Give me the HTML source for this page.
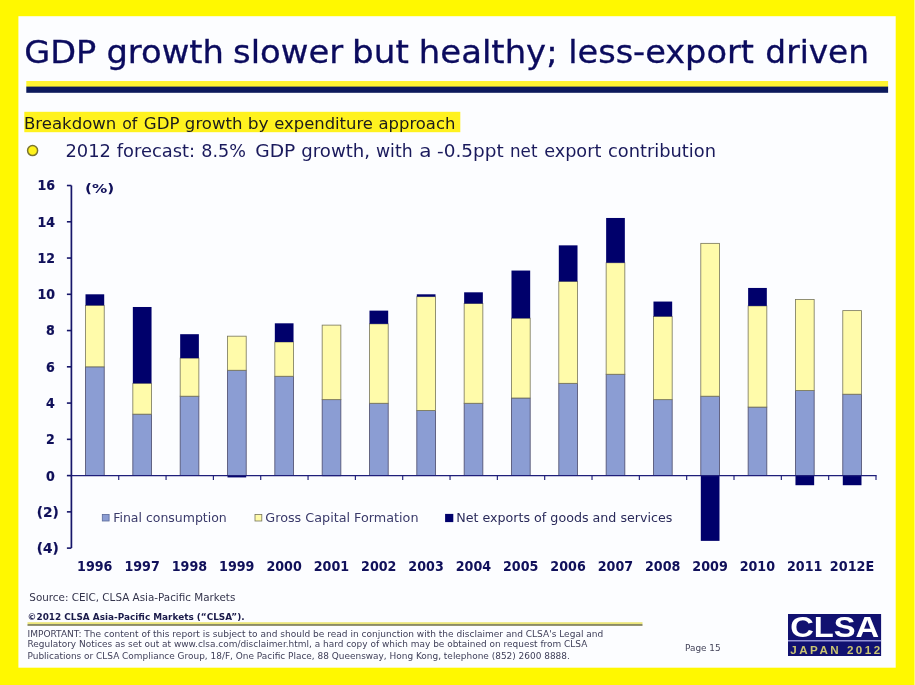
<!DOCTYPE html><html><head><meta charset="utf-8"><title>GDP growth slower but healthy; less-export driven</title>
<style>html,body{margin:0;padding:0;background:#fff800;overflow:hidden;}svg{display:block}text{font-family:"DejaVu Sans","Liberation Sans",sans-serif;}</style></head><body>
<svg width="915" height="685" viewBox="0 0 915 685">
<rect x="0" y="0" width="915" height="685" fill="#fff800"/>
<rect x="18.4" y="16.2" width="877.3" height="651.5" fill="#fcfdff"/><rect x="914" y="0" width="1" height="685" fill="#fffb70"/>
<text y="63.0" font-size="32.4" fill="#0b0b5e" stroke="#0b0b5e" stroke-width="0.3"><tspan x="24.23" textLength="72.11" lengthAdjust="spacingAndGlyphs">GDP</tspan> <tspan x="106.41" textLength="117.50" lengthAdjust="spacingAndGlyphs">growth</tspan> <tspan x="233.01" textLength="110.15" lengthAdjust="spacingAndGlyphs">slower</tspan> <tspan x="352.03" textLength="56.81" lengthAdjust="spacingAndGlyphs">but</tspan> <tspan x="418.86" textLength="138.73" lengthAdjust="spacingAndGlyphs">healthy;</tspan> <tspan x="568.19" textLength="185.71" lengthAdjust="spacingAndGlyphs">less-export</tspan> <tspan x="765.38" textLength="103.67" lengthAdjust="spacingAndGlyphs">driven</tspan></text>
<rect x="26.3" y="81" width="861.8" height="6" fill="#fff533"/>
<rect x="26.3" y="86.6" width="861.8" height="6.2" fill="#0c1a5c"/>
<rect x="24.3" y="111.8" width="436" height="20.4" fill="#fff21f"/>
<text y="128.9" font-size="16.3" fill="#1c1c1c"><tspan x="23.98" textLength="92.39" lengthAdjust="spacingAndGlyphs">Breakdown</tspan> <tspan x="122.13" textLength="15.18" lengthAdjust="spacingAndGlyphs">of</tspan> <tspan x="143.88" textLength="35.70" lengthAdjust="spacingAndGlyphs">GDP</tspan> <tspan x="184.88" textLength="57.60" lengthAdjust="spacingAndGlyphs">growth</tspan> <tspan x="247.75" textLength="20.98" lengthAdjust="spacingAndGlyphs">by</tspan> <tspan x="274.19" textLength="98.77" lengthAdjust="spacingAndGlyphs">expenditure</tspan> <tspan x="378.49" textLength="76.92" lengthAdjust="spacingAndGlyphs">approach</tspan></text>
<circle cx="32.6" cy="150.6" r="5.0" fill="#fff21a" stroke="#7a7430" stroke-width="1.5"/>
<text y="156.6" font-size="16.8" fill="#1a1a5c"><tspan x="65.43" textLength="45.60" lengthAdjust="spacingAndGlyphs">2012</tspan> <tspan x="116.80" textLength="78.33" lengthAdjust="spacingAndGlyphs">forecast:</tspan> <tspan x="201.25" textLength="44.62" lengthAdjust="spacingAndGlyphs">8.5%</tspan> <tspan x="255.29" textLength="40.06" lengthAdjust="spacingAndGlyphs">GDP</tspan> <tspan x="301.32" textLength="68.75" lengthAdjust="spacingAndGlyphs">growth,</tspan> <tspan x="375.97" textLength="36.69" lengthAdjust="spacingAndGlyphs">with</tspan> <tspan x="419.31" textLength="12.23" lengthAdjust="spacingAndGlyphs">a</tspan> <tspan x="437.00" textLength="66.70" lengthAdjust="spacingAndGlyphs">-0.5ppt</tspan> <tspan x="510.00" textLength="27.44" lengthAdjust="spacingAndGlyphs">net</tspan> <tspan x="544.15" textLength="57.23" lengthAdjust="spacingAndGlyphs">export</tspan> <tspan x="607.94" textLength="108.09" lengthAdjust="spacingAndGlyphs">contribution</tspan></text>
<rect x="85.51" y="366.82" width="18.7" height="108.78" fill="#8b9dd3" stroke="#4a4a6a" stroke-width="0.8"/>
<rect x="85.51" y="305.36" width="18.7" height="61.46" fill="#fffbaa" stroke="#77755a" stroke-width="0.8"/>
<rect x="85.51" y="294.30" width="18.7" height="11.06" fill="#00006b"/>
<rect x="132.84" y="414.14" width="18.7" height="61.46" fill="#8b9dd3" stroke="#4a4a6a" stroke-width="0.8"/>
<rect x="132.84" y="383.32" width="18.7" height="30.82" fill="#fffbaa" stroke="#77755a" stroke-width="0.8"/>
<rect x="132.84" y="306.99" width="18.7" height="76.33" fill="#00006b"/>
<rect x="180.17" y="396.19" width="18.7" height="79.41" fill="#8b9dd3" stroke="#4a4a6a" stroke-width="0.8"/>
<rect x="180.17" y="358.12" width="18.7" height="38.07" fill="#fffbaa" stroke="#77755a" stroke-width="0.8"/>
<rect x="180.17" y="334.19" width="18.7" height="23.93" fill="#00006b"/>
<rect x="227.50" y="370.26" width="18.7" height="105.34" fill="#8b9dd3" stroke="#4a4a6a" stroke-width="0.8"/>
<rect x="227.50" y="336.18" width="18.7" height="34.08" fill="#fffbaa" stroke="#77755a" stroke-width="0.8"/>
<rect x="227.50" y="475.60" width="18.7" height="1.81" fill="#00006b"/>
<rect x="274.83" y="376.25" width="18.7" height="99.35" fill="#8b9dd3" stroke="#4a4a6a" stroke-width="0.8"/>
<rect x="274.83" y="341.98" width="18.7" height="34.27" fill="#fffbaa" stroke="#77755a" stroke-width="0.8"/>
<rect x="274.83" y="323.31" width="18.7" height="18.67" fill="#00006b"/>
<rect x="322.16" y="399.64" width="18.7" height="75.96" fill="#8b9dd3" stroke="#4a4a6a" stroke-width="0.8"/>
<rect x="322.16" y="325.12" width="18.7" height="74.51" fill="#fffbaa" stroke="#77755a" stroke-width="0.8"/>
<rect x="322.16" y="475.60" width="18.7" height="0.54" fill="#00006b"/>
<rect x="369.49" y="403.26" width="18.7" height="72.34" fill="#8b9dd3" stroke="#4a4a6a" stroke-width="0.8"/>
<rect x="369.49" y="323.85" width="18.7" height="79.41" fill="#fffbaa" stroke="#77755a" stroke-width="0.8"/>
<rect x="369.49" y="310.62" width="18.7" height="13.23" fill="#00006b"/>
<rect x="416.82" y="410.51" width="18.7" height="65.09" fill="#8b9dd3" stroke="#4a4a6a" stroke-width="0.8"/>
<rect x="416.82" y="296.66" width="18.7" height="113.86" fill="#fffbaa" stroke="#77755a" stroke-width="0.8"/>
<rect x="416.82" y="294.30" width="18.7" height="2.36" fill="#00006b"/>
<rect x="464.15" y="403.26" width="18.7" height="72.34" fill="#8b9dd3" stroke="#4a4a6a" stroke-width="0.8"/>
<rect x="464.15" y="303.55" width="18.7" height="99.71" fill="#fffbaa" stroke="#77755a" stroke-width="0.8"/>
<rect x="464.15" y="292.31" width="18.7" height="11.24" fill="#00006b"/>
<rect x="511.48" y="398.00" width="18.7" height="77.60" fill="#8b9dd3" stroke="#4a4a6a" stroke-width="0.8"/>
<rect x="511.48" y="318.23" width="18.7" height="79.77" fill="#fffbaa" stroke="#77755a" stroke-width="0.8"/>
<rect x="511.48" y="270.55" width="18.7" height="47.68" fill="#00006b"/>
<rect x="558.81" y="383.32" width="18.7" height="92.28" fill="#8b9dd3" stroke="#4a4a6a" stroke-width="0.8"/>
<rect x="558.81" y="281.43" width="18.7" height="101.89" fill="#fffbaa" stroke="#77755a" stroke-width="0.8"/>
<rect x="558.81" y="245.35" width="18.7" height="36.08" fill="#00006b"/>
<rect x="606.14" y="374.25" width="18.7" height="101.35" fill="#8b9dd3" stroke="#4a4a6a" stroke-width="0.8"/>
<rect x="606.14" y="262.75" width="18.7" height="111.50" fill="#fffbaa" stroke="#77755a" stroke-width="0.8"/>
<rect x="606.14" y="217.97" width="18.7" height="44.78" fill="#00006b"/>
<rect x="653.47" y="399.64" width="18.7" height="75.96" fill="#8b9dd3" stroke="#4a4a6a" stroke-width="0.8"/>
<rect x="653.47" y="316.42" width="18.7" height="83.22" fill="#fffbaa" stroke="#77755a" stroke-width="0.8"/>
<rect x="653.47" y="301.55" width="18.7" height="14.87" fill="#00006b"/>
<rect x="700.80" y="396.19" width="18.7" height="79.41" fill="#8b9dd3" stroke="#4a4a6a" stroke-width="0.8"/>
<rect x="700.80" y="243.35" width="18.7" height="152.84" fill="#fffbaa" stroke="#77755a" stroke-width="0.8"/>
<rect x="700.80" y="475.60" width="18.7" height="65.27" fill="#00006b"/>
<rect x="748.13" y="407.07" width="18.7" height="68.53" fill="#8b9dd3" stroke="#4a4a6a" stroke-width="0.8"/>
<rect x="748.13" y="305.90" width="18.7" height="101.17" fill="#fffbaa" stroke="#77755a" stroke-width="0.8"/>
<rect x="748.13" y="287.95" width="18.7" height="17.95" fill="#00006b"/>
<rect x="795.46" y="390.57" width="18.7" height="85.03" fill="#8b9dd3" stroke="#4a4a6a" stroke-width="0.8"/>
<rect x="795.46" y="299.56" width="18.7" height="91.01" fill="#fffbaa" stroke="#77755a" stroke-width="0.8"/>
<rect x="795.46" y="475.60" width="18.7" height="9.61" fill="#00006b"/>
<rect x="842.79" y="394.20" width="18.7" height="81.40" fill="#8b9dd3" stroke="#4a4a6a" stroke-width="0.8"/>
<rect x="842.79" y="310.62" width="18.7" height="83.58" fill="#fffbaa" stroke="#77755a" stroke-width="0.8"/>
<rect x="842.79" y="475.60" width="18.7" height="9.61" fill="#00006b"/>
<line x1="71.4" y1="185.52" x2="71.4" y2="548.12" stroke="#16166a" stroke-width="1.7"/>
<line x1="70.60000000000001" y1="475.6" x2="876.6" y2="475.6" stroke="#1e1e7a" stroke-width="1.25"/>
<line x1="66.9" y1="548.12" x2="71.4" y2="548.12" stroke="#16166a" stroke-width="1.6"/>
<text x="36.7" y="553.12" font-size="13.6" font-weight="bold" fill="#10105a" stroke="#10105a" stroke-width="0.2" textLength="22" lengthAdjust="spacingAndGlyphs">(4)</text>
<line x1="66.9" y1="511.86" x2="71.4" y2="511.86" stroke="#16166a" stroke-width="1.6"/>
<text x="36.7" y="516.86" font-size="13.6" font-weight="bold" fill="#10105a" stroke="#10105a" stroke-width="0.2" textLength="22" lengthAdjust="spacingAndGlyphs">(2)</text>
<line x1="66.9" y1="475.60" x2="71.4" y2="475.60" stroke="#16166a" stroke-width="1.6"/>
<text x="46.10" y="480.50" font-size="13.6" font-weight="bold" fill="#10105a" stroke="#10105a" stroke-width="0.2" textLength="8.8" lengthAdjust="spacingAndGlyphs">0</text>
<line x1="66.9" y1="439.34" x2="71.4" y2="439.34" stroke="#16166a" stroke-width="1.6"/>
<text x="46.10" y="444.24" font-size="13.6" font-weight="bold" fill="#10105a" stroke="#10105a" stroke-width="0.2" textLength="8.8" lengthAdjust="spacingAndGlyphs">2</text>
<line x1="66.9" y1="403.08" x2="71.4" y2="403.08" stroke="#16166a" stroke-width="1.6"/>
<text x="46.10" y="407.98" font-size="13.6" font-weight="bold" fill="#10105a" stroke="#10105a" stroke-width="0.2" textLength="8.8" lengthAdjust="spacingAndGlyphs">4</text>
<line x1="66.9" y1="366.82" x2="71.4" y2="366.82" stroke="#16166a" stroke-width="1.6"/>
<text x="46.10" y="371.72" font-size="13.6" font-weight="bold" fill="#10105a" stroke="#10105a" stroke-width="0.2" textLength="8.8" lengthAdjust="spacingAndGlyphs">6</text>
<line x1="66.9" y1="330.56" x2="71.4" y2="330.56" stroke="#16166a" stroke-width="1.6"/>
<text x="46.10" y="335.46" font-size="13.6" font-weight="bold" fill="#10105a" stroke="#10105a" stroke-width="0.2" textLength="8.8" lengthAdjust="spacingAndGlyphs">8</text>
<line x1="66.9" y1="294.30" x2="71.4" y2="294.30" stroke="#16166a" stroke-width="1.6"/>
<text x="37.40" y="299.20" font-size="13.6" font-weight="bold" fill="#10105a" stroke="#10105a" stroke-width="0.2" textLength="17.5" lengthAdjust="spacingAndGlyphs">10</text>
<line x1="66.9" y1="258.04" x2="71.4" y2="258.04" stroke="#16166a" stroke-width="1.6"/>
<text x="37.40" y="262.94" font-size="13.6" font-weight="bold" fill="#10105a" stroke="#10105a" stroke-width="0.2" textLength="17.5" lengthAdjust="spacingAndGlyphs">12</text>
<line x1="66.9" y1="221.78" x2="71.4" y2="221.78" stroke="#16166a" stroke-width="1.6"/>
<text x="37.40" y="226.68" font-size="13.6" font-weight="bold" fill="#10105a" stroke="#10105a" stroke-width="0.2" textLength="17.5" lengthAdjust="spacingAndGlyphs">14</text>
<line x1="66.9" y1="185.52" x2="71.4" y2="185.52" stroke="#16166a" stroke-width="1.6"/>
<text x="37.40" y="190.42" font-size="13.6" font-weight="bold" fill="#10105a" stroke="#10105a" stroke-width="0.2" textLength="17.5" lengthAdjust="spacingAndGlyphs">16</text>
<line x1="118.73" y1="475.6" x2="118.73" y2="480.0" stroke="#1e1e7a" stroke-width="1.15"/>
<line x1="166.06" y1="475.6" x2="166.06" y2="480.0" stroke="#1e1e7a" stroke-width="1.15"/>
<line x1="213.39" y1="475.6" x2="213.39" y2="480.0" stroke="#1e1e7a" stroke-width="1.15"/>
<line x1="260.72" y1="475.6" x2="260.72" y2="480.0" stroke="#1e1e7a" stroke-width="1.15"/>
<line x1="308.05" y1="475.6" x2="308.05" y2="480.0" stroke="#1e1e7a" stroke-width="1.15"/>
<line x1="355.38" y1="475.6" x2="355.38" y2="480.0" stroke="#1e1e7a" stroke-width="1.15"/>
<line x1="402.71" y1="475.6" x2="402.71" y2="480.0" stroke="#1e1e7a" stroke-width="1.15"/>
<line x1="450.04" y1="475.6" x2="450.04" y2="480.0" stroke="#1e1e7a" stroke-width="1.15"/>
<line x1="497.36" y1="475.6" x2="497.36" y2="480.0" stroke="#1e1e7a" stroke-width="1.15"/>
<line x1="544.69" y1="475.6" x2="544.69" y2="480.0" stroke="#1e1e7a" stroke-width="1.15"/>
<line x1="592.02" y1="475.6" x2="592.02" y2="480.0" stroke="#1e1e7a" stroke-width="1.15"/>
<line x1="639.35" y1="475.6" x2="639.35" y2="480.0" stroke="#1e1e7a" stroke-width="1.15"/>
<line x1="686.68" y1="475.6" x2="686.68" y2="480.0" stroke="#1e1e7a" stroke-width="1.15"/>
<line x1="734.01" y1="475.6" x2="734.01" y2="480.0" stroke="#1e1e7a" stroke-width="1.15"/>
<line x1="781.34" y1="475.6" x2="781.34" y2="480.0" stroke="#1e1e7a" stroke-width="1.15"/>
<line x1="828.67" y1="475.6" x2="828.67" y2="480.0" stroke="#1e1e7a" stroke-width="1.15"/>
<line x1="876.00" y1="475.6" x2="876.00" y2="480.0" stroke="#1e1e7a" stroke-width="1.15"/>
<text x="85.0" y="193.4" font-size="13" font-weight="bold" fill="#10105a" textLength="29.2" lengthAdjust="spacingAndGlyphs">(%)</text>
<text x="94.76" y="571.0" font-size="13.5" font-weight="bold" fill="#10105a" text-anchor="middle" textLength="35.4" lengthAdjust="spacingAndGlyphs">1996</text>
<text x="142.09" y="571.0" font-size="13.5" font-weight="bold" fill="#10105a" text-anchor="middle" textLength="35.4" lengthAdjust="spacingAndGlyphs">1997</text>
<text x="189.42" y="571.0" font-size="13.5" font-weight="bold" fill="#10105a" text-anchor="middle" textLength="35.4" lengthAdjust="spacingAndGlyphs">1998</text>
<text x="236.75" y="571.0" font-size="13.5" font-weight="bold" fill="#10105a" text-anchor="middle" textLength="35.4" lengthAdjust="spacingAndGlyphs">1999</text>
<text x="284.08" y="571.0" font-size="13.5" font-weight="bold" fill="#10105a" text-anchor="middle" textLength="35.4" lengthAdjust="spacingAndGlyphs">2000</text>
<text x="331.41" y="571.0" font-size="13.5" font-weight="bold" fill="#10105a" text-anchor="middle" textLength="35.4" lengthAdjust="spacingAndGlyphs">2001</text>
<text x="378.74" y="571.0" font-size="13.5" font-weight="bold" fill="#10105a" text-anchor="middle" textLength="35.4" lengthAdjust="spacingAndGlyphs">2002</text>
<text x="426.07" y="571.0" font-size="13.5" font-weight="bold" fill="#10105a" text-anchor="middle" textLength="35.4" lengthAdjust="spacingAndGlyphs">2003</text>
<text x="473.40" y="571.0" font-size="13.5" font-weight="bold" fill="#10105a" text-anchor="middle" textLength="35.4" lengthAdjust="spacingAndGlyphs">2004</text>
<text x="520.73" y="571.0" font-size="13.5" font-weight="bold" fill="#10105a" text-anchor="middle" textLength="35.4" lengthAdjust="spacingAndGlyphs">2005</text>
<text x="568.06" y="571.0" font-size="13.5" font-weight="bold" fill="#10105a" text-anchor="middle" textLength="35.4" lengthAdjust="spacingAndGlyphs">2006</text>
<text x="615.39" y="571.0" font-size="13.5" font-weight="bold" fill="#10105a" text-anchor="middle" textLength="35.4" lengthAdjust="spacingAndGlyphs">2007</text>
<text x="662.72" y="571.0" font-size="13.5" font-weight="bold" fill="#10105a" text-anchor="middle" textLength="35.4" lengthAdjust="spacingAndGlyphs">2008</text>
<text x="710.05" y="571.0" font-size="13.5" font-weight="bold" fill="#10105a" text-anchor="middle" textLength="35.4" lengthAdjust="spacingAndGlyphs">2009</text>
<text x="757.38" y="571.0" font-size="13.5" font-weight="bold" fill="#10105a" text-anchor="middle" textLength="35.4" lengthAdjust="spacingAndGlyphs">2010</text>
<text x="804.71" y="571.0" font-size="13.5" font-weight="bold" fill="#10105a" text-anchor="middle" textLength="35.4" lengthAdjust="spacingAndGlyphs">2011</text>
<text x="852.04" y="571.0" font-size="13.5" font-weight="bold" fill="#10105a" text-anchor="middle" textLength="44.4" lengthAdjust="spacingAndGlyphs">2012E</text>
<rect x="102.3" y="514.4" width="6.8" height="6.6" fill="#8b9dd3" stroke="#5a6a9a" stroke-width="0.8"/>
<text x="113.2" y="522.2" font-size="13" fill="#3a3a6a" textLength="113.6" lengthAdjust="spacingAndGlyphs">Final consumption</text>
<rect x="255.0" y="514.4" width="6.8" height="6.6" fill="#fffbaa" stroke="#77755a" stroke-width="0.8"/>
<text x="265.3" y="522.2" font-size="13" fill="#3a3a6a" textLength="153.2" lengthAdjust="spacingAndGlyphs">Gross Capital Formation</text>
<rect x="445.1" y="513.9" width="8.2" height="8.2" fill="#00006b"/>
<text x="456.2" y="522.2" font-size="13" fill="#2a2a5a" textLength="216.2" lengthAdjust="spacingAndGlyphs">Net exports of goods and services</text>
<text x="29.3" y="600.9" font-size="10.6" fill="#34344c" textLength="206" lengthAdjust="spacingAndGlyphs">Source: CEIC, CLSA Asia-Pacific Markets</text>
<text x="27.6" y="620.1" font-size="9.4" font-weight="bold" fill="#1a1a4a" textLength="217" lengthAdjust="spacingAndGlyphs">©2012 CLSA Asia-Pacific Markets (“CLSA”).</text>
<rect x="27.5" y="622.2" width="615" height="1.8" fill="#ece67a"/>
<rect x="27.5" y="624" width="615" height="1.9" fill="#8b8b66"/>
<text x="27.5" y="637.1" font-size="8.3" fill="#3e3e58" textLength="575.8" lengthAdjust="spacingAndGlyphs">IMPORTANT: The content of this report is subject to and should be read in conjunction with the disclaimer and  CLSA's Legal and</text>
<text x="27.5" y="646.9" font-size="8.3" fill="#3e3e58" textLength="559.8" lengthAdjust="spacingAndGlyphs">Regulatory Notices as set out at www.clsa.com/disclaimer.html, a hard copy of which may be obtained on request from CLSA</text>
<text x="27.5" y="658.5" font-size="8.3" fill="#3e3e58" textLength="542.3" lengthAdjust="spacingAndGlyphs">Publications or CLSA Compliance Group, 18/F, One Pacific Place, 88 Queensway, Hong Kong, telephone (852) 2600 8888.</text>
<text x="685" y="650.7" font-size="9.4" fill="#44445a" textLength="35.7" lengthAdjust="spacingAndGlyphs">Page 15</text>
<rect x="788" y="614" width="93.1" height="42" fill="#111170"/>
<rect x="788" y="640.2" width="93.1" height="1.2" fill="#b4b4f0"/>
<text x="834.7" y="636.9" font-size="28.6" font-weight="bold" fill="#ffffff" text-anchor="middle" textLength="89" lengthAdjust="spacingAndGlyphs" style="font-family:'Liberation Sans',sans-serif">CLSA</text>
<text x="835.2" y="653.8" font-size="11.6" font-weight="bold" fill="#c9c472" text-anchor="middle" textLength="90" lengthAdjust="spacing" style="font-family:'Liberation Sans',sans-serif">JAPAN 2012</text>
</svg></body></html>
